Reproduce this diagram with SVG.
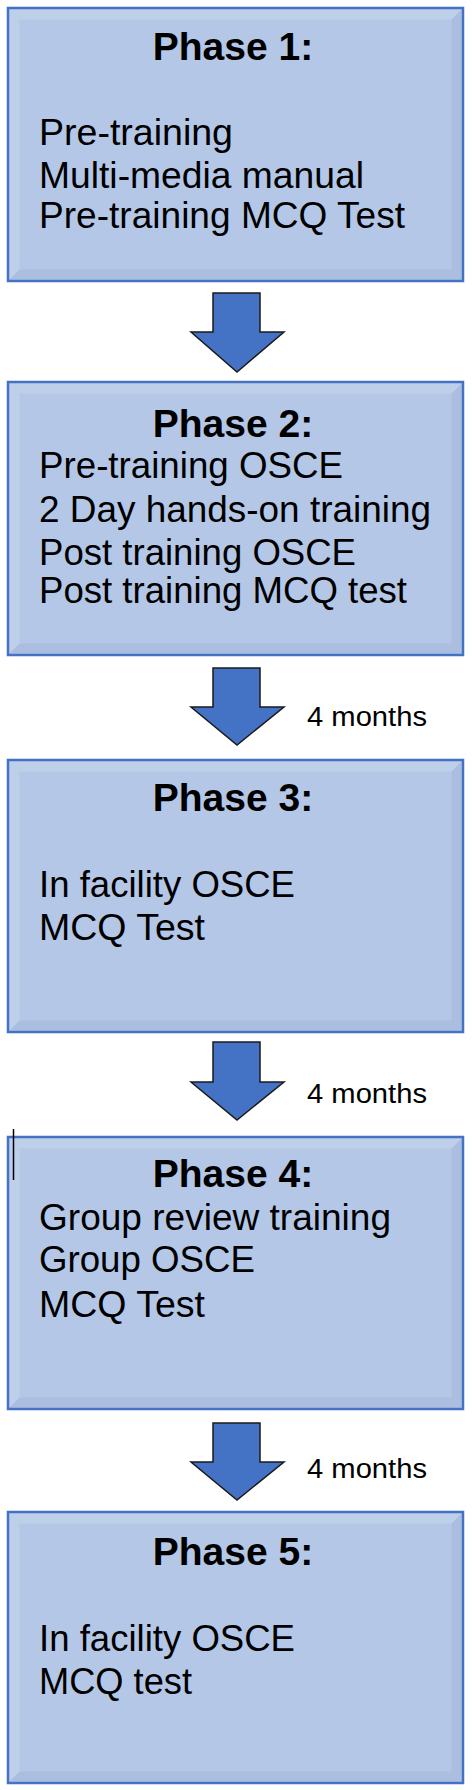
<svg xmlns="http://www.w3.org/2000/svg" width="472" height="1790" viewBox="0 0 472 1790">
<style>
.box{fill:#b4c7e7;stroke:#4472c4;stroke-width:2.5}
.hl{fill:#ffffff;fill-opacity:0.14}
.sh{fill:#1f3864;fill-opacity:0.06}
.title{font-family:"Liberation Sans",Arial,sans-serif;font-weight:bold;font-size:39px;fill:#000;text-anchor:middle}
.body{font-family:"Liberation Sans",Arial,sans-serif;font-size:36px;fill:#000}
.lbl{font-family:"Liberation Sans",Arial,sans-serif;font-size:27px;fill:#000}
.arrow{fill:#4472c4;stroke:#1a1a1a;stroke-width:1.5;stroke-linejoin:miter}
</style>
<rect width="472" height="1790" fill="#ffffff"/>

<g id="phase1">
<rect class="box" x="8" y="8" width="455" height="273"/>
<path class="hl" d="M9.5 9.5 H461.5 L451.5 19.5 H19.5 Z M9.5 9.5 V279.5 L19.5 269.5 V19.5 Z"/>
<path class="sh" d="M9.5 279.5 H461.5 L451.5 269.5 H19.5 Z M461.5 9.5 V279.5 L451.5 269.5 V19.5 Z"/>
<text class="title" x="233" y="60">Phase 1:</text>
<text class="body" x="39" y="145" textLength="194" lengthAdjust="spacingAndGlyphs">Pre-training</text>
<text class="body" x="39" y="188" textLength="325" lengthAdjust="spacingAndGlyphs">Multi-media manual</text>
<text class="body" x="39" y="228" textLength="366" lengthAdjust="spacingAndGlyphs">Pre-training MCQ Test</text>
</g>

<g id="phase2">
<rect class="box" x="8" y="382" width="455" height="273"/>
<path class="hl" d="M9.5 383.5 H461.5 L451.5 393.5 H19.5 Z M9.5 383.5 V653.5 L19.5 643.5 V393.5 Z"/>
<path class="sh" d="M9.5 653.5 H461.5 L451.5 643.5 H19.5 Z M461.5 383.5 V653.5 L451.5 643.5 V393.5 Z"/>
<text class="title" x="233" y="437">Phase 2:</text>
<text class="body" x="39" y="478" textLength="304" lengthAdjust="spacingAndGlyphs">Pre-training OSCE</text>
<text class="body" x="39" y="522" textLength="392" lengthAdjust="spacingAndGlyphs">2 Day hands-on training</text>
<text class="body" x="39" y="565" textLength="317" lengthAdjust="spacingAndGlyphs">Post training OSCE</text>
<text class="body" x="39" y="603" textLength="368" lengthAdjust="spacingAndGlyphs">Post training MCQ test</text>
</g>

<g id="phase3">
<rect class="box" x="8" y="760" width="455" height="272"/>
<path class="hl" d="M9.5 761.5 H461.5 L451.5 771.5 H19.5 Z M9.5 761.5 V1030.5 L19.5 1020.5 V771.5 Z"/>
<path class="sh" d="M9.5 1030.5 H461.5 L451.5 1020.5 H19.5 Z M461.5 761.5 V1030.5 L451.5 1020.5 V771.5 Z"/>
<text class="title" x="233" y="811">Phase 3:</text>
<text class="body" x="39" y="897" textLength="256" lengthAdjust="spacingAndGlyphs">In facility OSCE</text>
<text class="body" x="39" y="940" textLength="166" lengthAdjust="spacingAndGlyphs">MCQ Test</text>
</g>

<g id="phase4">
<rect class="box" x="8" y="1137" width="455" height="272"/>
<path class="hl" d="M9.5 1138.5 H461.5 L451.5 1148.5 H19.5 Z M9.5 1138.5 V1407.5 L19.5 1397.5 V1148.5 Z"/>
<path class="sh" d="M9.5 1407.5 H461.5 L451.5 1397.5 H19.5 Z M461.5 1138.5 V1407.5 L451.5 1397.5 V1148.5 Z"/>
<text class="title" x="233" y="1187">Phase 4:</text>
<text class="body" x="39" y="1230" textLength="352" lengthAdjust="spacingAndGlyphs">Group review training</text>
<text class="body" x="39" y="1272" textLength="216" lengthAdjust="spacingAndGlyphs">Group OSCE</text>
<text class="body" x="39" y="1317" textLength="166" lengthAdjust="spacingAndGlyphs">MCQ Test</text>
<line x1="13.5" y1="1129" x2="13.5" y2="1180" stroke="#000" stroke-width="1.5"/>
</g>

<g id="phase5">
<rect class="box" x="8" y="1512" width="455" height="271"/>
<path class="hl" d="M9.5 1513.5 H461.5 L451.5 1523.5 H19.5 Z M9.5 1513.5 V1781.5 L19.5 1771.5 V1523.5 Z"/>
<path class="sh" d="M9.5 1781.5 H461.5 L451.5 1771.5 H19.5 Z M461.5 1513.5 V1781.5 L451.5 1771.5 V1523.5 Z"/>
<text class="title" x="233" y="1565">Phase 5:</text>
<text class="body" x="39" y="1651" textLength="256" lengthAdjust="spacingAndGlyphs">In facility OSCE</text>
<text class="body" x="39" y="1694" textLength="153" lengthAdjust="spacingAndGlyphs">MCQ test</text>
</g>

<g id="connectors">
<polygon class="arrow" points="213,293 260,293 260,332 284,332 237,372 191,332 213,332"/>
<polygon class="arrow" points="213,668 260,668 260,707 284,707 237,745 191,707 213,707"/>
<text class="lbl" x="307" y="726" textLength="120" lengthAdjust="spacingAndGlyphs">4 months</text>
<polygon class="arrow" points="213,1042 260,1042 260,1082 284,1082 237,1120 191,1082 213,1082"/>
<text class="lbl" x="307" y="1103" textLength="120" lengthAdjust="spacingAndGlyphs">4 months</text>
<polygon class="arrow" points="213,1423 260,1423 260,1462 284,1462 237,1500 191,1462 213,1462"/>
<text class="lbl" x="307" y="1478" textLength="120" lengthAdjust="spacingAndGlyphs">4 months</text>
</g>
</svg>
